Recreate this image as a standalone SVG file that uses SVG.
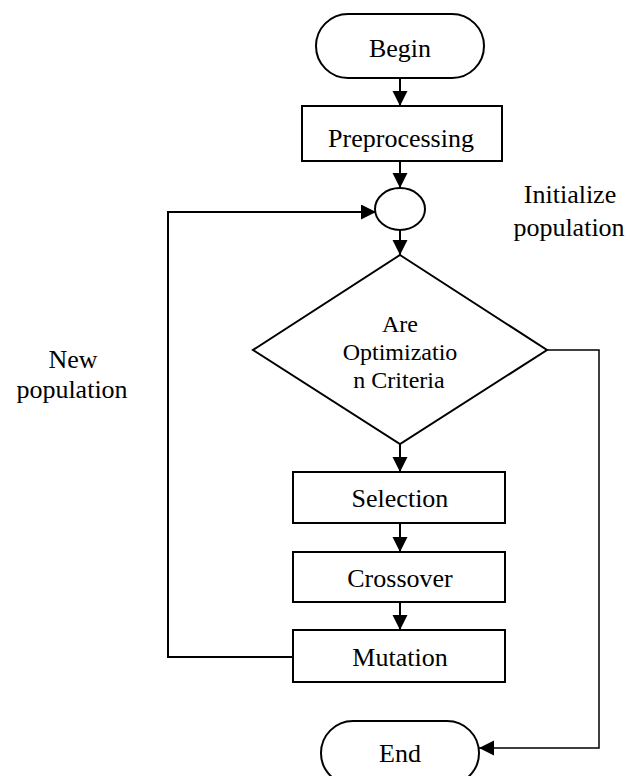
<svg xmlns="http://www.w3.org/2000/svg" width="630" height="776" viewBox="0 0 630 776">
<defs>
<marker id="arr" markerUnits="userSpaceOnUse" markerWidth="16" markerHeight="16" refX="15" refY="7.5" orient="auto">
<path d="M0,0 L15,7.5 L0,15 z" fill="#000"/>
</marker>
<style>
.s{fill:#fff;stroke:#000;stroke-width:2}
.t{font-family:'Liberation Serif','Times New Roman',Times,serif;font-size:26px;fill:#000;text-anchor:middle}
.d{font-family:'Liberation Serif','Times New Roman',Times,serif;font-size:24px;fill:#000;text-anchor:middle}
.c{fill:none;stroke:#000;stroke-width:2}
.c2{fill:none;stroke:#000;stroke-width:1.5}
</style>
</defs>
<rect width="630" height="776" fill="#fff"/>
<g id="connectors">
<line class="c" x1="400" y1="78" x2="400" y2="106" marker-end="url(#arr)"/>
<line class="c" x1="400" y1="161" x2="400" y2="188" marker-end="url(#arr)"/>
<line class="c" x1="400" y1="230" x2="400" y2="255" marker-end="url(#arr)"/>
<line class="c" x1="400" y1="444" x2="400" y2="472" marker-end="url(#arr)"/>
<line class="c" x1="400" y1="523" x2="400" y2="552" marker-end="url(#arr)"/>
<line class="c" x1="400" y1="602" x2="400" y2="630" marker-end="url(#arr)"/>
<polyline class="c" points="293,657 168,657 168,212 376,212" marker-end="url(#arr)"/>
<polyline class="c2" points="547,350 599,350 599,748 479,748" marker-end="url(#arr)"/>
</g>
<g id="begin">
<rect class="s" x="316" y="14" width="168" height="64" rx="32" ry="32"/>
<text class="t" x="400" y="57">Begin</text>
</g>
<g id="preprocessing">
<rect class="s" x="302" y="106" width="200" height="55"/>
<text class="t" x="401" y="147">Preprocessing</text>
</g>
<g id="init">
<ellipse class="s" cx="400" cy="209" rx="25" ry="21"/>
</g>
<g id="initialize-label">
<text class="t" x="570" y="203">Initialize</text>
<text class="t" x="569" y="236">population</text>
</g>
<g id="criteria">
<polygon class="s" points="400,255 547,350 400,444 253,350"/>
<text class="d" x="400" y="332">Are</text>
<text class="d" x="400" y="360">Optimizatio</text>
<text class="d" x="399" y="388">n Criteria</text>
</g>
<g id="new-population-label">
<text class="t" x="73" y="368">New</text>
<text class="t" x="72" y="398">population</text>
</g>
<g id="selection">
<rect class="s" x="293" y="472" width="212" height="51"/>
<text class="t" x="400" y="507">Selection</text>
</g>
<g id="crossover">
<rect class="s" x="293" y="552" width="212" height="50"/>
<text class="t" x="400" y="587">Crossover</text>
</g>
<g id="mutation">
<rect class="s" x="293" y="630" width="212" height="52"/>
<text class="t" x="400" y="666">Mutation</text>
</g>
<g id="end">
<rect class="s" x="321" y="721" width="158" height="64" rx="32" ry="32"/>
<text class="t" x="400" y="762">End</text>
</g>
</svg>
